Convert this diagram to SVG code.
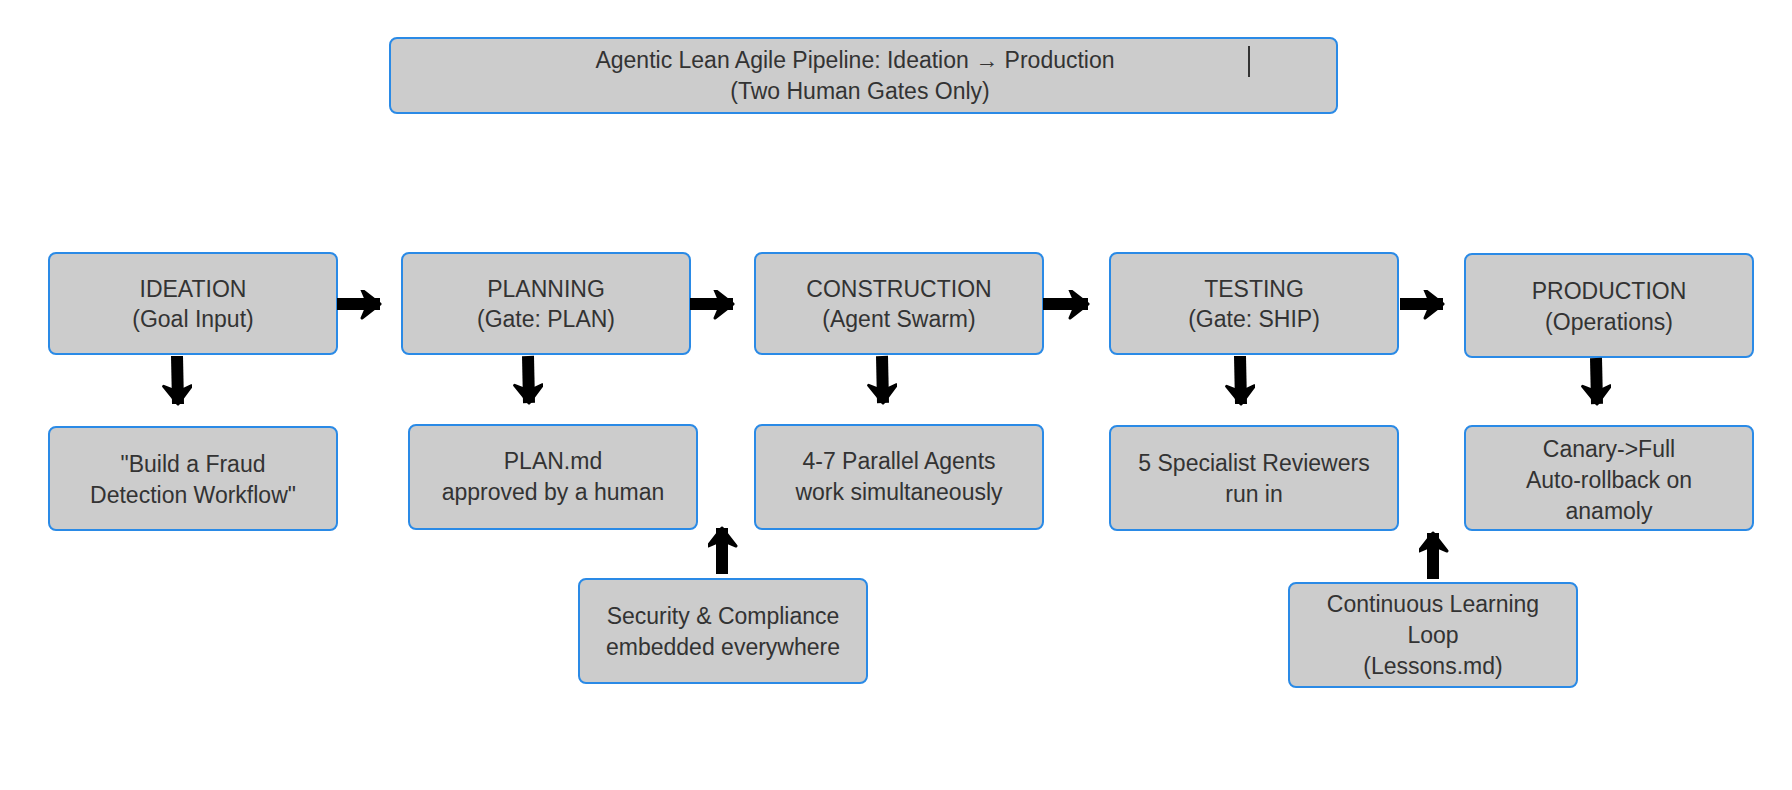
<svg xmlns="http://www.w3.org/2000/svg" width="1792" height="790" viewBox="0 0 1792 790">
<style>
.b{fill:#cccccc;stroke:#2a8ae6;stroke-width:2}
text{font-family:"Liberation Sans",Arial,sans-serif;font-size:23px;fill:#333;text-anchor:middle}
.c line{stroke:#000;stroke-width:12}
</style>
<defs>
<marker id="a" markerUnits="userSpaceOnUse" markerWidth="40" markerHeight="40" refX="20" refY="14" orient="auto" viewBox="0 0 40 40">
<path d="M2,0 L20,14 L2,28 L8,14 Z" fill="#000" stroke="#000" stroke-width="3" stroke-linejoin="round"/>
</marker>
</defs>
<rect width="1792" height="790" fill="#fff"/>
<g id="title"><rect class="b" x="390" y="38" width="947" height="75" rx="7"/>
<text x="855" y="68">Agentic Lean Agile Pipeline: Ideation → Production</text>
<text x="860" y="99">(Two Human Gates Only)</text>
<line x1="1249" y1="46" x2="1249" y2="77" stroke="#333" stroke-width="2"/></g>
<g id="ideation"><rect class="b" x="49" y="253" width="288" height="101" rx="7"/><text x="193" y="297">IDEATION</text><text x="193" y="327">(Goal Input)</text></g>
<g id="planning"><rect class="b" x="402" y="253" width="288" height="101" rx="7"/><text x="546" y="297">PLANNING</text><text x="546" y="327">(Gate: PLAN)</text></g>
<g id="construction"><rect class="b" x="755" y="253" width="288" height="101" rx="7"/><text x="899" y="297">CONSTRUCTION</text><text x="899" y="327">(Agent Swarm)</text></g>
<g id="testing"><rect class="b" x="1110" y="253" width="288" height="101" rx="7"/><text x="1254" y="297">TESTING</text><text x="1254" y="327">(Gate: SHIP)</text></g>
<g id="production"><rect class="b" x="1465" y="254" width="288" height="103" rx="7"/><text x="1609" y="299">PRODUCTION</text><text x="1609" y="330">(Operations)</text></g>
<g id="goal"><rect class="b" x="49" y="427" width="288" height="103" rx="7"/><text x="193" y="472">"Build a Fraud</text><text x="193" y="503">Detection Workflow"</text></g>
<g id="plan"><rect class="b" x="409" y="425" width="288" height="104" rx="7"/><text x="553" y="469">PLAN.md</text><text x="553" y="500">approved by a human</text></g>
<g id="agents"><rect class="b" x="755" y="425" width="288" height="104" rx="7"/><text x="899" y="469">4-7 Parallel Agents</text><text x="899" y="500">work simultaneously</text></g>
<g id="reviewers"><rect class="b" x="1110" y="426" width="288" height="104" rx="7"/><text x="1254" y="471">5 Specialist Reviewers</text><text x="1254" y="502">run in</text></g>
<g id="canary"><rect class="b" x="1465" y="426" width="288" height="104" rx="7"/><text x="1609" y="457">Canary-&gt;Full</text><text x="1609" y="488">Auto-rollback on</text><text x="1609" y="519">anamoly</text></g>
<g id="security"><rect class="b" x="579" y="579" width="288" height="104" rx="7"/><text x="723" y="624">Security &amp; Compliance</text><text x="723" y="655">embedded everywhere</text></g>
<g id="learning"><rect class="b" x="1289" y="583" width="288" height="104" rx="7"/><text x="1433" y="612">Continuous Learning</text><text x="1433" y="643">Loop</text><text x="1433" y="674">(Lessons.md)</text></g>
<g class="c" id="connectors">
<line x1="337" y1="304" x2="380" y2="304" marker-end="url(#a)"/>
<line x1="690" y1="304" x2="733" y2="304" marker-end="url(#a)"/>
<line x1="1043" y1="304" x2="1088" y2="304" marker-end="url(#a)"/>
<line x1="1400" y1="304" x2="1443" y2="304" marker-end="url(#a)"/>
<line x1="177" y1="356" x2="178" y2="404" marker-end="url(#a)"/>
<line x1="528" y1="356" x2="529" y2="403" marker-end="url(#a)"/>
<line x1="882" y1="356" x2="883" y2="403" marker-end="url(#a)"/>
<line x1="1240" y1="356" x2="1241" y2="404" marker-end="url(#a)"/>
<line x1="1596" y1="358" x2="1597" y2="404" marker-end="url(#a)"/>
<line x1="722" y1="574" x2="722" y2="528" marker-end="url(#a)"/>
<line x1="1433" y1="579" x2="1433" y2="533" marker-end="url(#a)"/>
</g>
</svg>
